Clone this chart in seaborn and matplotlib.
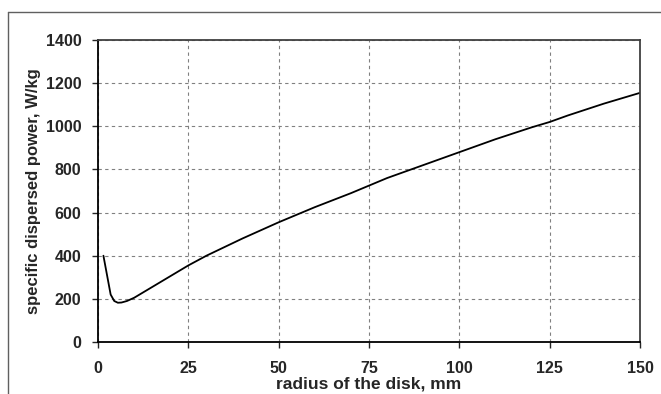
import matplotlib
matplotlib.use("Agg")
import matplotlib.pyplot as plt
import seaborn as sns
import pandas as pd
from matplotlib.lines import Line2D

# data
radius_mm = [1.5, 2.5, 3.5, 4.5, 5.5, 6.5, 8, 10, 12.5, 15, 20, 25, 30, 40,
             50, 60, 70, 75, 80, 90, 100, 110, 120, 125, 130, 140, 150]
power_w_kg = [400, 310, 220, 190, 182, 183, 190, 205, 230, 255, 305, 355, 400, 480,
              555, 625, 690, 725, 760, 820, 880, 940, 995, 1020, 1050, 1105, 1155]
x_ticks = [0, 25, 50, 75, 100, 125, 150]
y_ticks = [0, 200, 400, 600, 800, 1000, 1200, 1400]

df = pd.DataFrame({"radius": radius_mm, "power": power_w_kg})

sns.set_style("ticks")
plt.rcParams['font.family'] = ['Liberation Sans', 'DejaVu Sans']

fig = plt.figure(figsize=(6.61, 3.94), dpi=100)
ax = fig.add_axes([98 / 661, 1 - 342 / 394, (640 - 98) / 661, (342 - 40) / 394])

sns.lineplot(data=df, x="radius", y="power", color="black", linewidth=1.3, ax=ax)

ax.set_xlim(0, 150)
ax.set_ylim(0, 1400)
ax.set_xticks(x_ticks)
ax.set_yticks(y_ticks)
ax.grid(True, linestyle=(0, (3, 3)), color="#808080", linewidth=0.8)
ax.tick_params(axis="y", direction="out", length=4, width=1, labelsize=11.5, pad=8)
ax.tick_params(axis="x", direction="out", length=4, width=1, labelsize=11.5, pad=10)
for lbl in ax.get_xticklabels() + ax.get_yticklabels():
    lbl.set_fontweight("bold")

ax.set_xlabel("radius of the disk, mm", fontsize=12.5, fontweight="bold", labelpad=0)
ax.set_ylabel("specific dispersed power, W/kg", fontsize=12, fontweight="bold", labelpad=3)

for side in ["left", "bottom"]:
    ax.spines[side].set_color("black")
    ax.spines[side].set_linewidth(1.3)
for side in ["top", "right"]:
    ax.spines[side].set_color("#404040")
    ax.spines[side].set_linewidth(1.3)

# outer frame (cropped at right and bottom)
fig.add_artist(Line2D([8 / 661, 8 / 661], [0, 1 - 12 / 394], transform=fig.transFigure,
                      color="#606060", linewidth=1))
fig.add_artist(Line2D([8 / 661, 1], [1 - 12 / 394, 1 - 12 / 394], transform=fig.transFigure,
                      color="#606060", linewidth=1))

fig.savefig("out.png", dpi=100)
